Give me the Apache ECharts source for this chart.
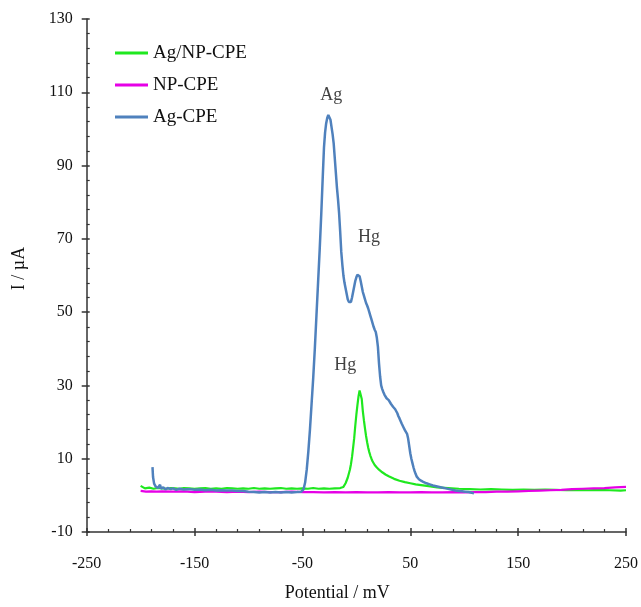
<!DOCTYPE html>
<html>
<head>
<meta charset="utf-8">
<script src="https://cdn.jsdelivr.net/npm/echarts@6/dist/echarts.min.js"></script>
<style>
html,body{margin:0;padding:0;background:#fff;}
#chart{width:641px;height:607px;}
</style>
</head>
<body>
<div id="chart"></div>
<script>
// ---- Data ----
var seriesNames = ['Ag/NP-CPE', 'NP-CPE', 'Ag-CPE'];

// Ag/NP-CPE (green)
var agNpX = [-200,-199,-196,-192,-188,-184,-180,-176,-172,-168,-164,-160,-155,-150,-145,-140,-135,-130,-125,-120,-115,-110,-105,-100,-95,-90,-85,-80,-75,-70,-65,-60,-55,-50,-45,-40,-35,-30,-25,-20,-15,-12,-10,-8,-6,-5,-4,-3,-2,-1,0,1,2,3,3.5,4,5,6,7,8,9,10,11,12,13,14,15,17,19,21,24,27,30,35,40,45,50,55,60,67,75,85,95,105,115,125,135,145,155,165,175,185,195,205,215,225,235,245,250];
var agNpY = [2.6,2.1,1.9,2.1,1.8,2.0,1.9,1.8,2.0,1.9,1.8,2.0,1.9,1.8,1.9,2.0,1.8,1.9,1.8,2.0,1.9,1.8,1.9,1.8,2.0,1.8,1.9,1.8,1.9,2.0,1.8,1.9,1.8,1.9,1.8,2.0,1.8,1.9,1.8,1.9,2.0,2.3,3.3,4.8,7.0,8.5,10.5,13.0,15.6,19.0,22.0,24.6,27.0,28.6,28.8,28.2,26.3,23.0,20.5,18.3,16.2,14.5,13.0,11.8,10.8,10.0,9.3,8.3,7.6,7.0,6.3,5.7,5.2,4.5,4.0,3.6,3.3,3.0,2.8,2.5,2.2,2.0,1.8,1.7,1.6,1.7,1.6,1.5,1.6,1.5,1.6,1.5,1.4,1.5,1.4,1.5,1.4,1.3,1.4];

// NP-CPE (magenta)
var npX = [-200,-195,-190,-185,-180,-170,-160,-150,-140,-130,-120,-110,-100,-90,-80,-70,-60,-50,-40,-30,-20,-10,0,10,20,30,40,50,60,70,80,90,100,110,120,130,140,150,160,170,180,190,200,210,220,230,240,250];
var npY = [1.2,1.0,1.1,1.0,1.1,1.0,1.1,0.9,1.0,1.0,0.9,1.0,0.9,1.0,0.9,0.9,1.0,0.9,0.9,0.8,0.9,0.8,0.9,0.8,0.8,0.9,0.8,0.8,0.9,0.8,0.8,0.9,0.8,0.9,0.9,1.0,1.0,1.1,1.2,1.3,1.4,1.5,1.7,1.8,1.9,2.0,2.2,2.3];

// Ag-CPE (blue)
var agX = [-189,-188.5,-187.5,-186,-184,-182,-181,-179,-177,-175,-172,-170,-167,-164,-160,-155,-150,-145,-140,-135,-130,-125,-120,-115,-110,-105,-100,-95,-90,-85,-80,-75,-70,-65,-60,-55,-51,-49,-47.5,-46,-44.5,-43,-41.5,-40,-38.5,-37,-35.5,-34,-32.5,-31,-30,-29,-28,-27,-26,-25,-24,-23,-22,-21,-20,-19,-18,-17,-16,-15,-14,-13,-12,-11,-10,-9,-8,-7,-6,-5,-4,-3,-2,-1,0,1,2,3,4,5,6,7,8,9,10,11,12,13,14,15,16,17,18,19,20,21,22,23,24,25,26,27,28,29,30,31,32,33,34,35,36,37,38,39,40,41,42,43,44,45,46,47,48,49,50,51,52,53,54,55,56,58,60,62,65,68,71,74,77,80,83,86,89,92,95,98,101,104,107,109];
var agY = [7.7,5.0,3.2,2.4,2.0,2.9,1.8,2.2,1.6,2.0,1.7,1.9,1.5,1.8,1.6,1.7,1.5,1.6,1.4,1.5,1.3,1.4,1.3,1.3,1.2,1.2,1.0,0.9,0.8,0.9,0.8,0.9,0.8,0.9,0.8,0.9,1.0,1.6,3.5,7,12,18,25,32,40,49,58,67,77,88,95,99,101.5,103,103.8,103.7,102.5,100.5,98.5,96,92,88,84,80.8,77,72,66.5,63,60,58,56.5,55,53.5,52.8,52.3,52.8,54,55.5,57,58.5,59.5,60.2,60.3,59.8,58.5,57,55.5,54.5,53.5,52.5,51.8,51,50,49,48,47,46,45.2,44.6,43,40.5,36,32.5,30,29,28.2,27.5,27,26.5,26.2,26,25.5,25,24.5,24.2,23.9,23.5,23,22.4,21.6,21,20.3,19.6,19,18.4,17.8,17.4,16.8,15.5,13.5,11.5,10,8.8,7.6,6.6,5.8,5.1,4.4,4.0,3.7,3.3,3.0,2.7,2.5,2.3,2.1,1.9,1.7,1.5,1.3,1.2,1.1,1.0,0.9,0.7,0.6];

// Peak annotations: [x, y, text]
var annotations = [[-23.3, 109.3, 'Ag'], [11.8, 70.5, 'Hg'], [-10.4, 35.4, 'Hg']];

// Axis ticks
var xMin = -250, xMax = 250, xStep = 100;
var yMin = -10, yMax = 130, yStep = 20;

function zip(xs, ys) { return xs.map(function (x, i) { return [x, ys[i]]; }); }

var FONT = '"Liberation Serif", "DejaVu Serif", serif';
var TXT = '#111';
var AX = '#333';

var chart = echarts.init(document.getElementById('chart'), null, {renderer: 'canvas'});
chart.setOption({
  animation: false,
  backgroundColor: '#fff',
  grid: {left: 86.7, right: 13.3, top: 19, bottom: 72.7, containLabel: false},
  legend: {
    data: seriesNames,
    orient: 'vertical',
    left: 115, top: 43, padding: 0,
    itemWidth: 33, itemHeight: 3, itemGap: 12,
    icon: 'rect',
    textStyle: {fontFamily: FONT, fontSize: 19, color: TXT, lineHeight: 20}
  },
  xAxis: [{
    type: 'value', min: xMin, max: xMax, interval: xStep,
    name: 'Potential / mV', nameLocation: 'middle', nameGap: 52,
    nameTextStyle: {fontFamily: FONT, fontSize: 18, color: TXT, padding: [0, 38, 0, 0]},
    axisLine: {show: true, onZero: false, lineStyle: {color: AX, width: 1.5}},
    axisTick: {show: true, inside: false, length: 4, lineStyle: {color: AX, width: 1.5}},
    axisLabel: {fontFamily: FONT, fontSize: 16, color: TXT, margin: 24},
    splitLine: {show: false}
  }, {
    type: 'value', min: xMin, max: xMax, interval: xStep, position: 'bottom',
    axisLine: {show: false, onZero: false},
    axisTick: {show: true, inside: true, length: 4, lineStyle: {color: AX, width: 1.5}},
    minorTick: {show: true, splitNumber: 5, length: 3, lineStyle: {color: AX, width: 1.2}},
    axisLabel: {show: false},
    splitLine: {show: false}
  }],
  yAxis: [{
    type: 'value', min: yMin, max: yMax, interval: yStep,
    name: 'I / µA', nameLocation: 'middle', nameGap: 58, nameRotate: 90,
    nameTextStyle: {fontFamily: FONT, fontSize: 18, color: TXT, padding: [0, 0, 0, 14]},
    axisLine: {show: true, onZero: false, lineStyle: {color: AX, width: 1.5}},
    axisTick: {show: true, inside: false, length: 5, lineStyle: {color: AX, width: 1.5}},
    axisLabel: {fontFamily: FONT, fontSize: 16, color: TXT, margin: 14},
    splitLine: {show: false}
  }, {
    type: 'value', min: yMin, max: yMax, interval: yStep, position: 'left',
    axisLine: {show: false, onZero: false},
    axisTick: {show: true, inside: true, length: 3, lineStyle: {color: AX, width: 1.5}},
    minorTick: {show: true, splitNumber: 5, length: 3, lineStyle: {color: AX, width: 1.2}},
    axisLabel: {show: false},
    splitLine: {show: false}
  }],
  series: [{
    name: seriesNames[0], type: 'line', data: zip(agNpX, agNpY),
    showSymbol: false, symbol: 'none', color: '#1fe81f',
    lineStyle: {color: '#1fe81f', width: 2.2}, z: 2
  }, {
    name: seriesNames[1], type: 'line', data: zip(npX, npY),
    showSymbol: false, symbol: 'none', color: '#e600e6',
    lineStyle: {color: '#e600e6', width: 2.2}, z: 3
  }, {
    name: seriesNames[2], type: 'line', data: zip(agX, agY),
    showSymbol: false, symbol: 'none', color: '#4f81bd',
    lineStyle: {color: '#4f81bd', width: 2.5}, z: 4
  }, {
    name: 'labels', type: 'scatter', data: annotations,
    symbolSize: 1, itemStyle: {color: 'rgba(0,0,0,0)'},
    label: {show: true, position: 'inside', formatter: function (p) { return p.data[2]; },
      fontFamily: FONT, fontSize: 18, color: TXT},
    silent: true, z: 5
  }]
});
</script>
</body>
</html>
